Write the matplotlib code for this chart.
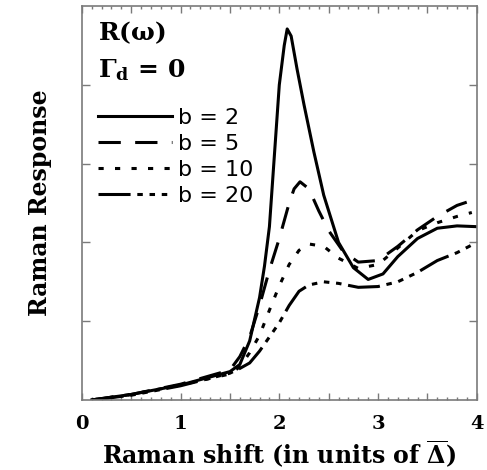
import matplotlib
matplotlib.use('Agg')
import matplotlib.pyplot as plt
from matplotlib.ticker import MultipleLocator, NullFormatter, FixedLocator

plt.rcParams['mathtext.fontset'] = 'custom'
plt.rcParams['mathtext.rm'] = 'DejaVu Serif:bold'
plt.rcParams['mathtext.it'] = 'DejaVu Serif:bold'
plt.rcParams['mathtext.bf'] = 'DejaVu Serif:bold'

# b = 2 (solid)
x_b2 = [0.1, 0.5, 1.0, 1.5, 1.6, 1.7, 1.8, 1.85, 1.9, 1.95, 2.0, 2.05, 2.08, 2.12,
        2.18, 2.25, 2.35, 2.45, 2.6, 2.75, 2.9, 3.05, 3.2, 3.4, 3.6, 3.8, 4.0]
y_b2 = [0.0, 0.07, 0.19, 0.36, 0.45, 0.75, 1.3, 1.7, 2.2, 3.1, 4.0, 4.5, 4.71, 4.62,
        4.2, 3.75, 3.15, 2.6, 2.0, 1.68, 1.53, 1.6, 1.82, 2.05, 2.18, 2.21, 2.2]

# b = 5 (dashed)
x_b5 = [0.1, 0.5, 1.0, 1.5, 1.6, 1.7, 1.8, 1.9, 2.0, 2.1, 2.15, 2.21, 2.3, 2.4,
        2.5, 2.65, 2.8, 3.0, 3.2, 3.4, 3.6, 3.8, 3.92]
y_b5 = [0.0, 0.07, 0.2, 0.38, 0.55, 0.8, 1.2, 1.65, 2.05, 2.5, 2.68, 2.77, 2.68, 2.4,
        2.15, 1.88, 1.75, 1.77, 1.95, 2.16, 2.33, 2.47, 2.52]

# b = 10 (dotted)
x_b10 = [0.1, 0.5, 1.0, 1.5, 1.6, 1.7, 1.8, 1.9, 2.0, 2.1, 2.2, 2.3, 2.45, 2.6,
         2.8, 3.0, 3.2, 3.4, 3.6, 3.8, 3.95]
y_b10 = [0.0, 0.07, 0.19, 0.33, 0.42, 0.6, 0.82, 1.14, 1.45, 1.72, 1.9, 1.98, 1.95, 1.8,
         1.67, 1.72, 1.93, 2.15, 2.25, 2.33, 2.38]

# b = 20 (dash-dot-dot)
x_b20 = [0.1, 0.5, 1.0, 1.5, 1.6, 1.7, 1.8, 1.9, 2.0, 2.1, 2.2, 2.3, 2.45, 2.6,
         2.8, 3.0, 3.2, 3.4, 3.6, 3.8, 4.0]
y_b20 = [0.0, 0.06, 0.18, 0.34, 0.4, 0.47, 0.62, 0.8, 0.98, 1.2, 1.38, 1.46, 1.5, 1.48,
         1.43, 1.44, 1.5, 1.62, 1.77, 1.87, 2.0]

labels = ['b = 2', 'b = 5', 'b = 10', 'b = 20']

serif = 'DejaVu Serif'

fig = plt.figure(figsize=(4.87, 4.70), dpi=100)
ax = fig.add_axes([0.168, 0.149, 0.811, 0.838])

lw = 2.2
ax.plot(x_b2, y_b2, color='black', lw=lw, linestyle='-', label=labels[0])
ax.plot(x_b5, y_b5, color='black', lw=lw, linestyle=(0, (7.3, 4.7)), label=labels[1])
ax.plot(x_b10, y_b10, color='black', lw=lw, linestyle=(0, (1.7, 3.7)), label=labels[2])
ax.plot(x_b20, y_b20, color='black', lw=lw,
        linestyle=(0, (10.5, 2.2, 1.8, 2.2, 1.8, 2.2, 1.8, 2.2)), label=labels[3])

ax.set_xlim(0, 4)
ax.set_ylim(0, 5)

ax.xaxis.set_major_locator(MultipleLocator(0.5))
ax.xaxis.set_minor_locator(MultipleLocator(0.1))
ax.xaxis.set_major_formatter(plt.FuncFormatter(
    lambda v, p: '%d' % round(v) if abs(v - round(v)) < 1e-6 else ''))
ax.yaxis.set_major_locator(FixedLocator([1, 2, 3, 4]))
ax.yaxis.set_major_formatter(NullFormatter())

spine_col = '#7a7a7a'
for s in ax.spines.values():
    s.set_color(spine_col)
    s.set_linewidth(1.2)
ax.tick_params(which='both', direction='in', top=True, right=True, color=spine_col, width=1.0)
ax.tick_params(which='major', length=5)
ax.tick_params(which='minor', length=2.5)
ax.tick_params(axis='y', which='major', length=6)
ax.tick_params(axis='x', which='major', pad=11)

for t in ax.get_xticklabels():
    t.set_fontfamily(serif)
    t.set_fontweight('bold')
    t.set_fontsize(14)

ax.set_xlabel(r'Raman shift (in units of $\overline{\Delta}$)', fontfamily=serif,
              fontweight='bold', fontsize=17, labelpad=4)
ax.set_ylabel('Raman Response', fontfamily=serif, fontweight='bold',
              fontsize=17, labelpad=18)

ax.text(0.04, 0.965, r'R($\omega$)', transform=ax.transAxes, fontfamily=serif,
        fontweight='bold', fontsize=18, va='top', ha='left')
ax.text(0.04, 0.87, r'$\Gamma_{\mathrm{d}}$ = 0', transform=ax.transAxes,
        fontfamily=serif, fontweight='bold', fontsize=18, va='top', ha='left')

leg = ax.legend(loc='upper left', bbox_to_anchor=(0.018, 0.765), frameon=False,
                handlelength=3.35, handletextpad=0.27, labelspacing=0.27,
                borderaxespad=0, prop={'family': 'DejaVu Sans', 'size': 16})

fig.savefig('out.png', dpi=100)
